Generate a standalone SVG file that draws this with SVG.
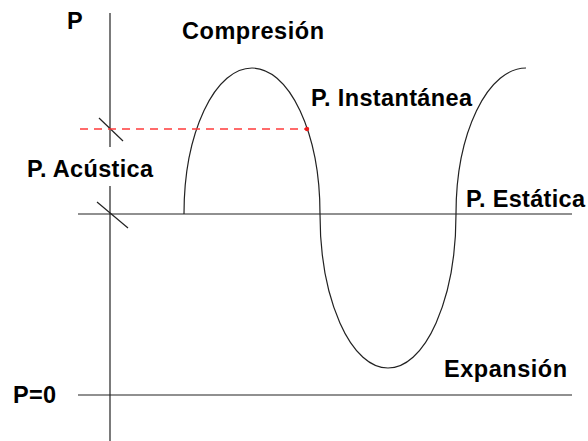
<svg xmlns="http://www.w3.org/2000/svg" width="588" height="441" viewBox="0 0 588 441">
<style>
.ln{stroke:#222;stroke-width:1.2;fill:none}
.lb{font-family:"Liberation Sans",Arial,sans-serif;font-weight:bold;font-size:23.5px;fill:#000}
</style>
<rect width="588" height="441" fill="#fff"/>
<g id="axes">
<line class="ln" x1="110" y1="13" x2="110" y2="147"/>
<line class="ln" x1="110" y1="186" x2="110" y2="441"/>
<line class="ln" x1="78" y1="214" x2="572" y2="214"/>
<line class="ln" x1="78" y1="395" x2="572" y2="395"/>
<line class="ln" x1="99" y1="118" x2="123" y2="141"/>
<line class="ln" x1="97" y1="202" x2="128" y2="228"/>
</g>
<g id="wave">
<path class="ln" d="M184,214 A68,146 0 0 1 320,214 A68,154 0 0 0 456,214 A70,146 0 0 1 526,68"/>
</g>
<g id="instant">
<line x1="80" y1="129" x2="307" y2="129" stroke="#ff3b3b" stroke-width="1.6" stroke-dasharray="8,6"/>
<circle cx="307" cy="129" r="2.2" fill="#ee1c1c"/>
</g>
<g id="labels">
<text class="lb" x="67" y="29">P</text>
<text class="lb" x="182" y="39" textLength="142">Compresión</text>
<text class="lb" x="311" y="106" textLength="161">P. Instantánea</text>
<text class="lb" x="27" y="177" textLength="126">P. Acústica</text>
<text class="lb" x="466" y="207" textLength="119">P. Estática</text>
<text class="lb" x="444" y="377" textLength="123">Expansión</text>
<text class="lb" x="13" y="403" textLength="43">P=0</text>
</g>
</svg>
